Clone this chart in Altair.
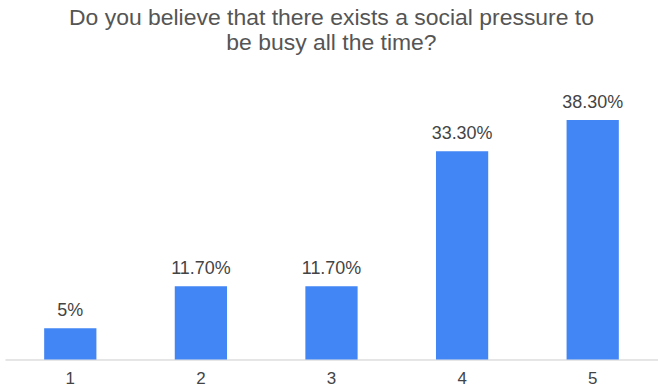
import altair as alt
import pandas as pd

# Survey answers on a 1-5 scale and the share of respondents for each
ratings = ["1", "2", "3", "4", "5"]
shares = [5.0, 11.7, 11.7, 33.3, 38.3]
share_labels = ["5%", "11.70%", "11.70%", "33.30%", "38.30%"]

df = pd.DataFrame({"rating": ratings, "share": shares, "label": share_labels})

FONT = "Liberation Sans"

base = alt.Chart(df).encode(
    x=alt.X(
        "rating:N",
        sort=ratings,
        title=None,
        scale=alt.Scale(paddingInner=0.6, paddingOuter=0.3),
        axis=alt.Axis(
            labelAngle=0,
            ticks=False,
            labelPadding=11,
            labelFontSize=17,
            labelFont=FONT,
            labelColor="#444444",
            domainColor="#cccccc",
            domainWidth=1,
        ),
    ),
    y=alt.Y(
        "share:Q",
        scale=alt.Scale(domain=[0, 40]),
        axis=None,
    ),
)

bars = base.mark_bar(color="#4285F4")

labels = base.mark_text(
    baseline="bottom",
    dy=-8,
    fontSize=18,
    font=FONT,
    color="#444444",
).encode(text="label:N")

chart = (
    (bars + labels)
    .properties(
        width=655,
        height=251,
        title=alt.TitleParams(
            text=[
                "Do you believe that there exists a social pressure to",
                "be busy all the time?",
            ],
            fontSize=23,
            font=FONT,
            fontWeight="normal",
            color="#555555",
            lineHeight=25,
            anchor="middle",
            offset=39,
        ),
        autosize=alt.AutoSizeParams(type="none"),
        padding={"left": 5, "top": 109, "right": 0, "bottom": 32},
    )
    .configure_view(stroke=None)
)

chart.save("out.html", embed_options={"renderer": "svg", "actions": False})
